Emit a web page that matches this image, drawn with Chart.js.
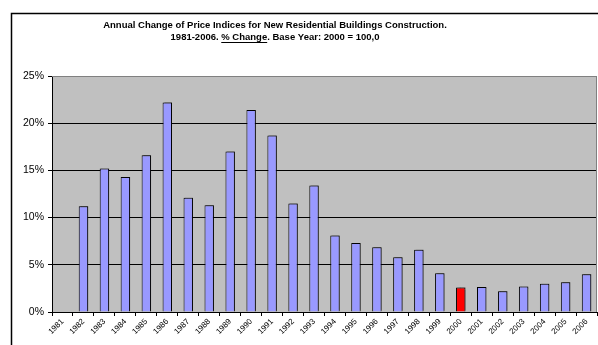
<!DOCTYPE html>
<html>
<head>
<meta charset="utf-8">
<script src="https://cdn.jsdelivr.net/npm/chart.js@4/dist/chart.umd.min.js"></script>
<style>
  html, body { margin: 0; padding: 0; background: #fff; }
  #wrap { width: 598px; height: 345px; position: relative; }
</style>
</head>
<body>
<div id="wrap"><canvas id="c" width="598" height="345"></canvas></div>
<script>
// Years on the category axis
const years = ['1981','1982','1983','1984','1985','1986','1987','1988','1989','1990',
               '1991','1992','1993','1994','1995','1996','1997','1998','1999','2000',
               '2001','2002','2003','2004','2005','2006'];
// Annual % change of the price index (no change reported for 1981)
const pctChange = [null, 11.2, 15.2, 14.3, 16.6, 22.2, 12.1, 11.3, 17.0, 21.4,
                   18.7, 11.5, 13.4, 8.1, 7.3, 6.85, 5.8, 6.6, 4.1, 2.6,
                   2.65, 2.2, 2.7, 3.0, 3.15, 4.0];
// Value-axis ticks (percent)
const yTicks = [0, 5, 10, 15, 20, 25];
const baseYear = '2000';

const titleLine1 = 'Annual Change of Price Indices for New Residential Buildings Construction.';
const titlePre = '1981-2006. ';
const titleUnder = '% Change';
const titlePost = '. Base Year: 2000 = 100,0';

const FONT = "'Liberation Sans', Arial, sans-serif";

const frame = {
  id: 'frame',
  beforeDraw(chart) {
    const { ctx, chartArea: a } = chart;
    ctx.save();
    ctx.fillStyle = '#fff';
    ctx.fillRect(0, 0, chart.width, chart.height);
    ctx.fillStyle = '#C0C0C0';
    ctx.fillRect(a.left, a.top, a.right - a.left, a.bottom - a.top);
    // outer chart border
    ctx.strokeStyle = '#000';
    ctx.lineWidth = 1.5;
    ctx.beginPath();
    ctx.moveTo(11.5, chart.height + 2);
    ctx.lineTo(11.5, 13.5);
    ctx.lineTo(chart.width + 2, 13.5);
    ctx.stroke();
    // two-line title, "% Change" underlined
    ctx.fillStyle = '#000';
    ctx.font = 'bold 9.5px ' + FONT;
    ctx.textBaseline = 'middle';
    ctx.textAlign = 'center';
    const cx = 275;
    ctx.fillText(titleLine1, cx, 25);
    const full = titlePre + titleUnder + titlePost;
    const w = ctx.measureText(full).width;
    const x0 = cx - w / 2;
    ctx.textAlign = 'left';
    ctx.fillText(full, x0, 37);
    const u0 = x0 + ctx.measureText(titlePre).width;
    const uw = ctx.measureText(titleUnder).width;
    ctx.lineWidth = 1;
    ctx.beginPath();
    ctx.moveTo(u0, 42.5);
    ctx.lineTo(u0 + uw, 42.5);
    ctx.stroke();
    ctx.restore();
  },
  beforeDatasetsDraw(chart) {
    const { ctx, chartArea: a } = chart;
    ctx.save();
    ctx.strokeStyle = '#808080';
    ctx.lineWidth = 1;
    ctx.beginPath();
    ctx.moveTo(a.left, a.top + 0.5);
    ctx.lineTo(a.right - 0.5, a.top + 0.5);
    ctx.lineTo(a.right - 0.5, a.bottom);
    ctx.stroke();
    ctx.restore();
    ctx.save();
    ctx.shadowColor = 'rgba(0,0,0,0.35)';
    ctx.shadowOffsetX = 1.5;
    ctx.shadowOffsetY = -1;
    ctx.shadowBlur = 1;
  },
  afterDatasetsDraw(chart) {
    chart.ctx.restore();
  }
};

new Chart(document.getElementById('c'), {
  type: 'bar',
  data: {
    labels: years,
    datasets: [{
      data: pctChange,
      backgroundColor: years.map(y => y === baseYear ? '#FF0000' : '#9999FF'),
      borderColor: '#000',
      borderWidth: 1,
      borderSkipped: 'bottom',
      barPercentage: 0.45,
      categoryPercentage: 1
    }]
  },
  options: {
    responsive: false,
    animation: false,
    events: [],
    layout: { padding: { top: 76, left: 0, right: 1, bottom: 0 } },
    plugins: { legend: { display: false }, title: { display: false }, tooltip: { enabled: false } },
    scales: {
      x: {
        offset: true,
        grid: { display: true, drawOnChartArea: false, offset: true, color: '#000', tickLength: 4 },
        border: { display: true, color: '#000', width: 1 },
        ticks: {
          color: '#000', font: { family: FONT, size: 8 },
          minRotation: 45, maxRotation: 45, autoSkip: false, padding: 1
        },
        afterFit(s) { s.height = 33; }
      },
      y: {
        min: 0, max: 25,
        afterBuildTicks(s) { s.ticks = yTicks.map(v => ({ value: v })); },
        grid: {
          color: ctx => (ctx.tick && ctx.tick.value === 25) ? '#808080' : '#000',
          lineWidth: 1, tickLength: 4, tickColor: '#000'
        },
        border: { display: true, color: '#000', width: 1 },
        ticks: {
          color: '#000', font: { family: FONT, size: 10.5 }, padding: 4,
          callback: v => v + '%'
        },
        afterFit(s) { s.width = 52; }
      }
    }
  },
  plugins: [frame]
});
</script>
</body>
</html>
